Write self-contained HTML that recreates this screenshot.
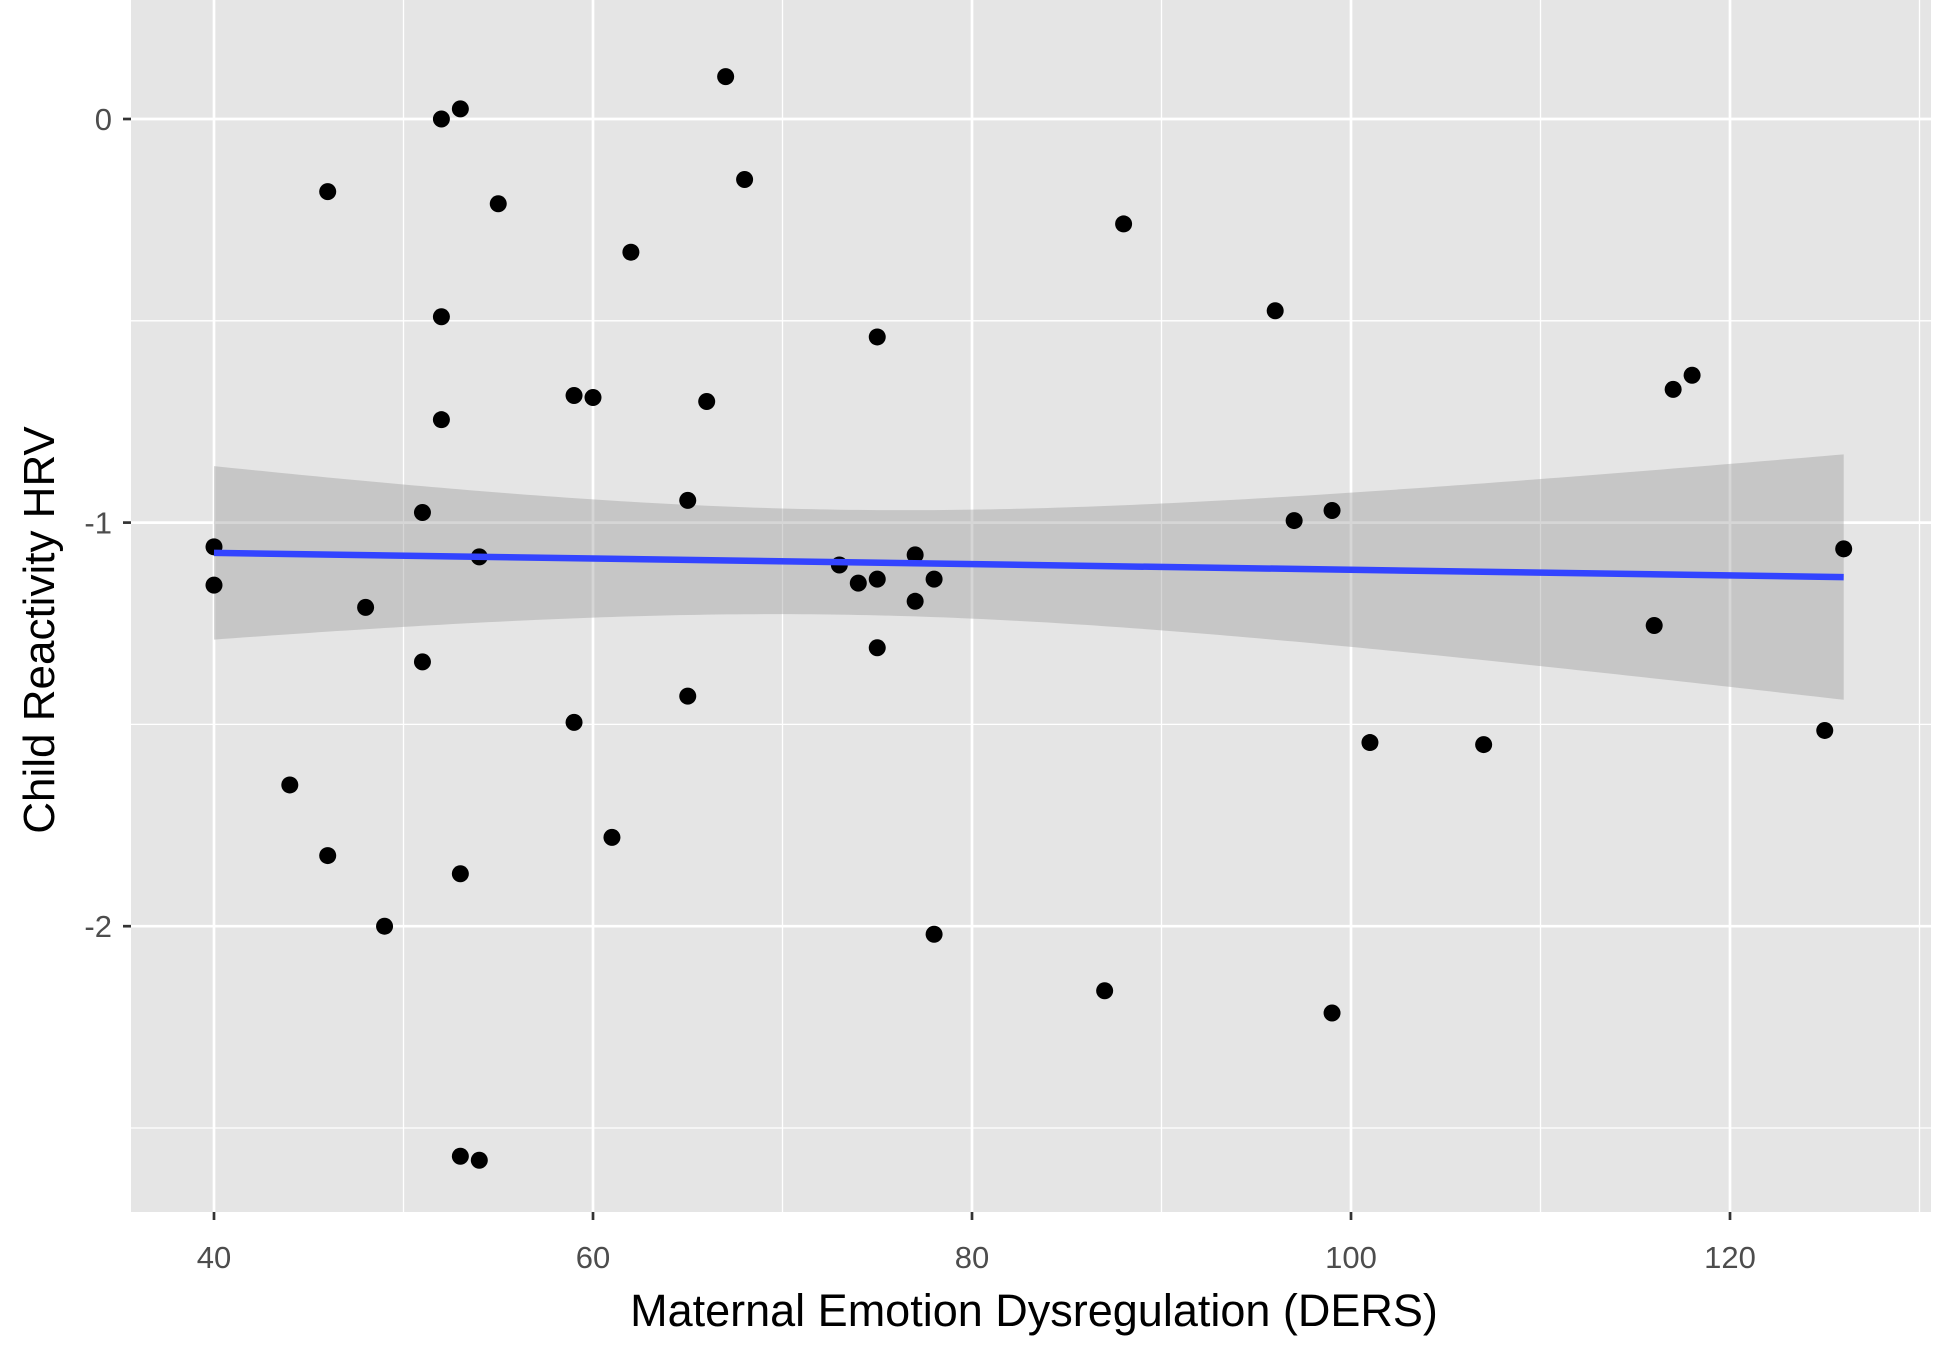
<!DOCTYPE html>
<html><head><meta charset="utf-8"><style>
html,body{margin:0;padding:0;background:#fff;}
svg{display:block;font-family:"Liberation Sans",Arial,sans-serif;}
</style></head><body>
<svg id="chart" width="1950" height="1350" viewBox="0 0 1950 1350" xmlns="http://www.w3.org/2000/svg">
<rect x="131" y="0" width="1800" height="1212" fill="#e5e5e5"/>
<g id="grid"></g>
<g id="ribbon"></g>
<g id="points"></g>
<g id="fit"></g>
<g id="axes"></g>
<text x="1034" y="1326" font-size="45" text-anchor="middle" fill="#000">Maternal Emotion Dysregulation (DERS)</text>
<text transform="translate(54,630) rotate(-90)" font-size="44" text-anchor="middle" fill="#000">Child Reactivity HRV</text>
</svg>
<script>
const xs = [40,40,44,46,46,48,49,51,51,52,52,52,53,53,53,54,54,55,59,59,60,61,62,65,65,66,67,68,73,74,75,75,75,77,77,78,78,87,88,96,97,99,99,101,107,116,117,118,125,126];
const ys = [-1.06,-1.155,-1.65,-0.18,-1.825,-1.21,-2.0,-0.975,-1.345,0.0,-0.49,-0.745,0.025,-1.87,-2.57,-1.085,-2.58,-0.21,-0.685,-1.495,-0.69,-1.78,-0.33,-0.945,-1.43,-0.7,0.105,-0.15,-1.105,-1.15,-0.54,-1.14,-1.31,-1.08,-1.195,-1.14,-2.02,-2.16,-0.26,-0.475,-0.995,-0.97,-2.215,-1.545,-1.55,-1.255,-0.67,-0.635,-1.515,-1.065];
const xTicks = [40,60,80,100,120];
const xMinor = [50,70,90,110,130];
const yTicks = [0,-1,-2];
const yMinor = [-0.5,-1.5,-2.5];
const xTickLabels = ["40","60","80","100","120"];
const yTickLabels = ["0","-1","-2"];
const fitEnds = [-1.075,-1.135];
const bandCenterX = [73];
const bandHalfAtCenter = [0.13];
const bandCurv = [2.69e-5];

const NS="http://www.w3.org/2000/svg";
const X = v => 214 + (v-40)*18.95;
const Y = v => 119 - v*403.6;
function mk(tag, parent, attrs){const e=document.createElementNS(NS,tag);for(const k in attrs)e.setAttribute(k,attrs[k]);document.getElementById(parent).appendChild(e);return e;}

xMinor.forEach(v=>{const e=mk('line','grid',{x1:X(v),x2:X(v),y1:0,y2:1212,stroke:'#fff','stroke-width':1.3});

});
yMinor.forEach(v=>{const e=mk('line','grid',{x1:131,x2:1931,y1:Y(v),y2:Y(v),stroke:'#fff','stroke-width':1.3});

});
xTicks.forEach((v,i)=>{const e=mk('line','grid',{x1:X(v),x2:X(v),y1:0,y2:1212,stroke:'#fff','stroke-width':2.7});


const t=mk('line','axes',{x1:X(v),x2:X(v),y1:1212,y2:1220,stroke:'#333','stroke-width':2.7});


const l=mk('text','axes',{x:X(v),y:1268,'font-size':31,'text-anchor':'middle',fill:'#4d4d4d'});l.textContent=xTickLabels[i];

});
yTicks.forEach((v,i)=>{const e=mk('line','grid',{x1:131,x2:1931,y1:Y(v),y2:Y(v),stroke:'#fff','stroke-width':2.7});


const t=mk('line','axes',{x1:123,x2:131,y1:Y(v),y2:Y(v),stroke:'#333','stroke-width':2.7});


const l=mk('text','axes',{x:112,y:Y(v)+11,'font-size':31,'text-anchor':'end',fill:'#4d4d4d'});l.textContent=yTickLabels[i];

});

const x0=xs[0], x1=xs[xs.length-1];
const fitY = v => fitEnds[0] + (fitEnds[1]-fitEnds[0])*(v-x0)/(x1-x0);
const half = v => Math.sqrt(bandHalfAtCenter[0]**2 + bandCurv[0]*(v-bandCenterX[0])**2);
let up=[],lo=[];
for(let v=x0; v<=x1+1e-9; v+=0.5){up.push(X(v)+','+Y(fitY(v)+half(v)));lo.unshift(X(v)+','+Y(fitY(v)-half(v)));}
const rb=mk('polygon','ribbon',{points:up.concat(lo).join(' '),fill:'#999999','fill-opacity':0.4});



xs.forEach((v,i)=>{const c=mk('circle','points',{cx:X(v),cy:Y(ys[i]),r:8.5,fill:'#000'});

});

const ln=mk('line','fit',{x1:X(x0),y1:Y(fitY(x0)),x2:X(x1),y2:Y(fitY(x1)),stroke:'#3344ff','stroke-width':6.5});


</script>
</body></html>
